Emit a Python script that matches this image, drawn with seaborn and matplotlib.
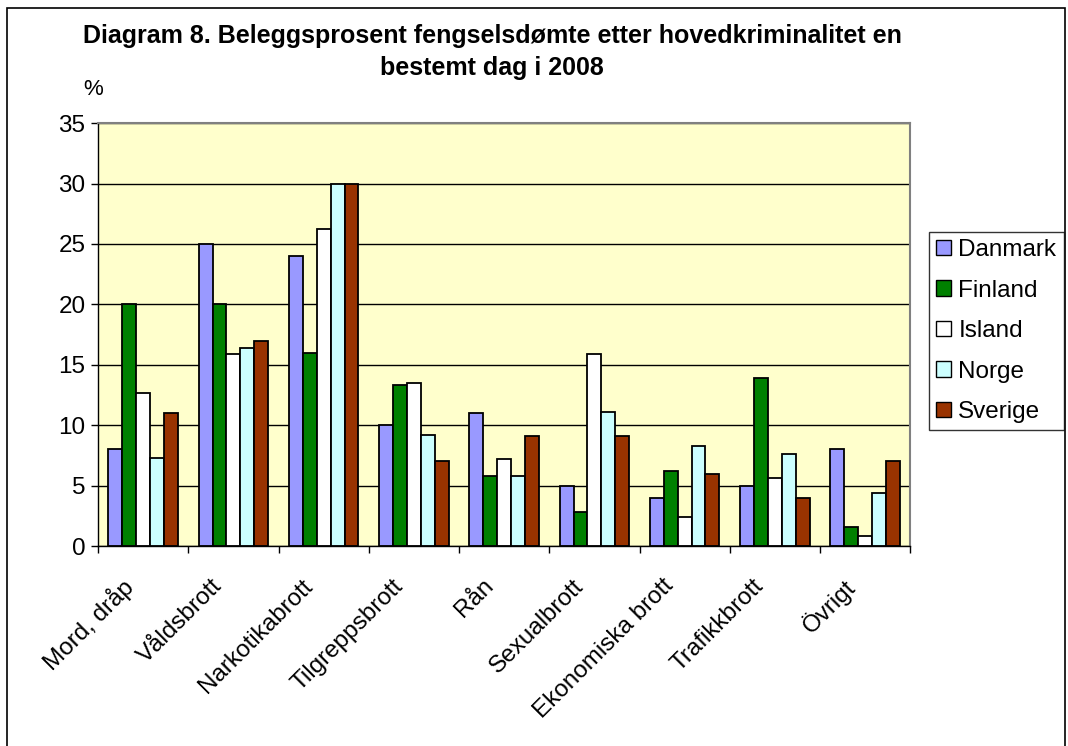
import pandas as pd
import matplotlib.pyplot as plt
import matplotlib.patches as mpatches
import matplotlib.transforms as mtrans
import seaborn as sns

kategorier = ['Mord, dråp', 'Våldsbrott', 'Narkotikabrott', 'Tilgreppsbrott', 'Rån',
              'Sexualbrott', 'Ekonomiska brott', 'Trafikkbrott', 'Övrigt']
land = ['Danmark', 'Finland', 'Island', 'Norge', 'Sverige']

danmark = [8, 25, 24, 10, 11, 5, 4, 5, 8]
finland = [20, 20, 16, 13.3, 5.8, 2.8, 6.2, 13.9, 1.6]
island = [12.7, 15.9, 26.2, 13.5, 7.2, 15.9, 2.4, 5.6, 0.8]
norge = [7.3, 16.4, 30, 9.2, 5.8, 11.1, 8.3, 7.6, 4.4]
sverige = [11, 17, 30, 7, 9.1, 9.1, 6.0, 4, 7]

farger = ['#9999FF', '#008000', '#FFFFFF', '#CCFFFF', '#993300']

rows = []
for navn, verdier in zip(land, [danmark, finland, island, norge, sverige]):
    for kat, v in zip(kategorier, verdier):
        rows.append({'kategori': kat, 'land': navn, 'prosent': v})
df = pd.DataFrame(rows)

sns.set_theme(style='white')
plt.rcParams['font.family'] = ['Liberation Sans', 'DejaVu Sans']
plt.rcParams['text.color'] = 'black'
plt.rcParams['xtick.color'] = 'black'
plt.rcParams['ytick.color'] = 'black'

fig = plt.figure(figsize=(10.68, 7.46), dpi=100)
ax = fig.add_axes([0.0918, 0.268, 0.7605, 0.567])

sns.barplot(data=df, x='kategori', y='prosent', hue='land', order=kategorier,
            hue_order=land, palette=farger, edgecolor='black', linewidth=1.3,
            width=0.77, gap=0, ax=ax, errorbar=None, saturation=1)

ax.set_facecolor('#FFFFCC')
ax.set_ylim(0, 35)
ax.set_xlim(-0.5, len(kategorier) - 0.5)
ax.set_yticks(range(0, 36, 5))
ax.yaxis.grid(True, color='black', linewidth=1)
ax.set_axisbelow(True)
ax.tick_params(axis='y', labelsize=17.5, length=5, width=1, direction='out', left=True, pad=4)

# kategorinavn skrås 45 grader, litt til venstre for midten av gruppen
ax.set_xticks([])
forskyv = mtrans.ScaledTranslation(-22 / 100, -29 / 100, fig.dpi_scale_trans)
for i, kat in enumerate(kategorier):
    ax.text(i, 0, kat, transform=ax.get_xaxis_transform() + forskyv, rotation=45,
            ha='right', va='top', rotation_mode='anchor', fontsize=17.5)
ax.set_xticks([i - 0.5 for i in range(len(kategorier) + 1)], minor=True)
ax.tick_params(axis='x', which='minor', length=5, width=1, direction='out', bottom=True)
ax.set_xlabel('')
ax.set_ylabel('')
for side in ['left', 'bottom']:
    ax.spines[side].set_color('black')
    ax.spines[side].set_linewidth(1)
for side in ['top', 'right']:
    ax.spines[side].set_color('#808080')
    ax.spines[side].set_linewidth(1.5)

handles = [mpatches.Patch(facecolor=c, edgecolor='black', linewidth=1) for c in farger]
ax.legend_.remove()
fig.legend(handles, land, loc='upper left', bbox_to_anchor=(0.87, 0.689),
           fontsize=17.5, frameon=True, fancybox=False, edgecolor='black',
           handlelength=0.6, handleheight=0.6, handletextpad=0.3,
           labelspacing=0.76, borderpad=0.3, borderaxespad=0)

fig.text(0.0777, 0.872, '%', fontsize=16)
fig.text(0.461, 0.93, 'Diagram 8. Beleggsprosent fengselsdømte etter hovedkriminalitet en\nbestemt dag i 2008',
         ha='center', va='center', fontsize=18, fontweight='bold', linespacing=1.4)

fig.patches.append(mpatches.Rectangle((0.0066, -0.01), 0.991, 0.999, transform=fig.transFigure,
                                      fill=False, edgecolor='black', linewidth=1.2))

fig.savefig('out.png', dpi=100)
